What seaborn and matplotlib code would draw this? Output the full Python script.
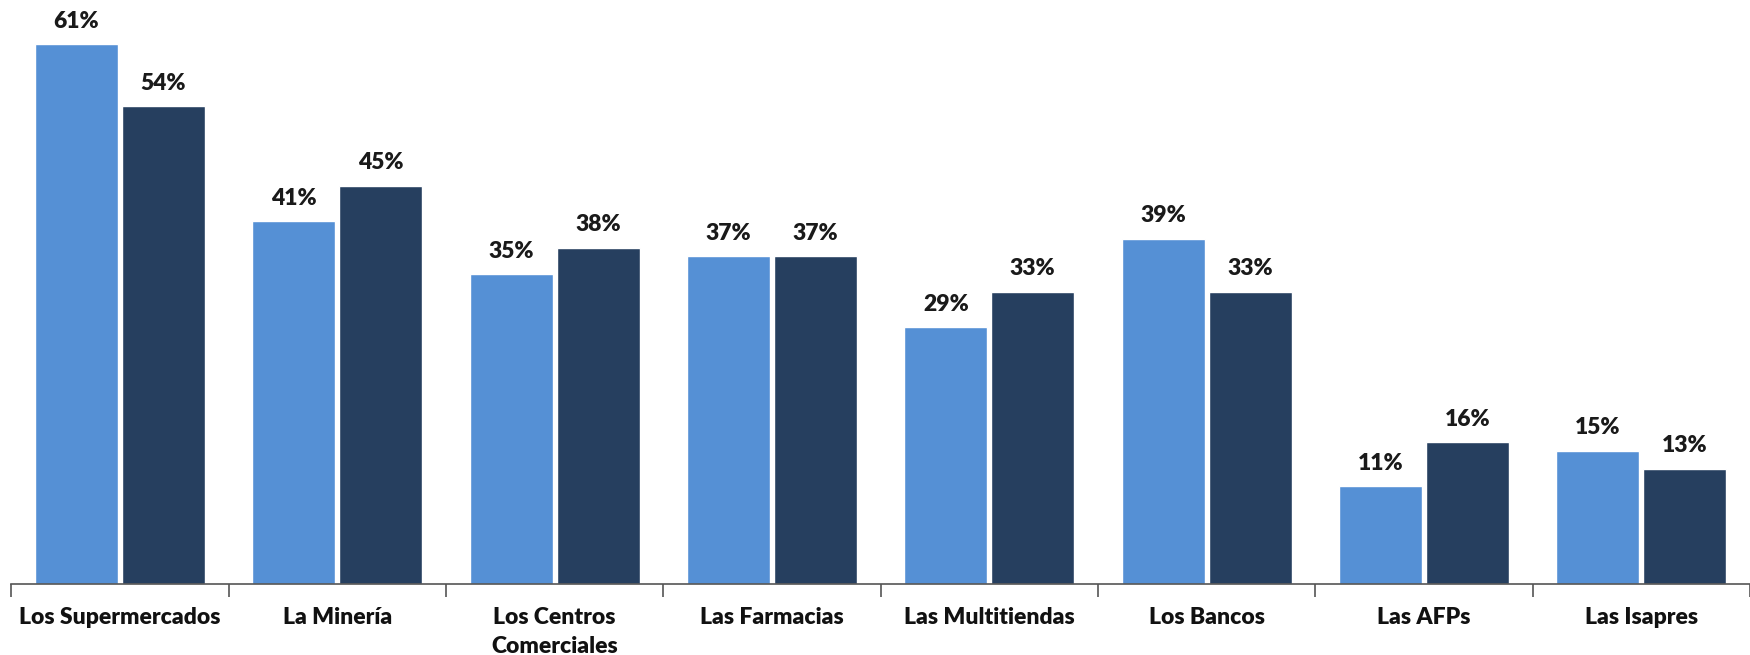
import matplotlib
matplotlib.use("Agg")
import matplotlib.pyplot as plt
import seaborn as sns
import pandas as pd
import numpy as np

categories = ["Los Supermercados", "La Minería", "Los Centros\nComerciales", "Las Farmacias",
              "Las Multitiendas", "Los Bancos", "Las AFPs", "Las Isapres"]
serie_a = [61, 41, 35, 37, 29, 39, 11, 15]
serie_b = [54, 45, 38, 37, 33, 33, 16, 13]
series = ["A", "B"]
colors = ["#5590D5", "#263F5F"]

df = pd.DataFrame({
    "categoria": categories * 2,
    "valor": serie_a + serie_b,
    "serie": [series[0]] * len(categories) + [series[1]] * len(categories),
})

sns.set_style("white")
plt.rcParams["font.family"] = ["Lato", "DejaVu Sans"]

fig = plt.figure(figsize=(17.5, 6.55), dpi=100)
ax = fig.add_axes([0.0064, 0.109, 0.9936, 0.891])

sns.barplot(data=df, x="categoria", y="valor", hue="serie", palette=colors,
            width=0.80, gap=0.045, saturation=1, legend=False, ax=ax)

for cont in ax.containers:
    ax.bar_label(cont, fmt="{:.0f}%", padding=9, fontsize=16.5, fontweight="heavy", color="#1a1a1a")

ax.set_ylim(0, 66)
# el eje sigue un poco mas alla del borde derecho
ax.set_xlim(-0.5, 7.456)
ax.set_xlabel("")
ax.set_ylabel("")
ax.set_yticks([])
for s in ["top", "right", "left"]:
    ax.spines[s].set_visible(False)
ax.spines["bottom"].set_color("#555555")
ax.spines["bottom"].set_linewidth(1.2)

ax.set_xticks(np.arange(len(categories)))
ax.set_xticklabels(categories, fontsize=16.5, fontweight="heavy", color="#111111", linespacing=1.45)
ax.tick_params(axis="x", which="major", length=0, pad=17)
ax.set_xticks(np.arange(len(categories) + 1) - 0.5, minor=True)
ax.tick_params(axis="x", which="minor", length=9, width=1.2, color="#555555", direction="out")
ax.xaxis.set_ticks_position("bottom")

fig.savefig("out.png", dpi=100)
